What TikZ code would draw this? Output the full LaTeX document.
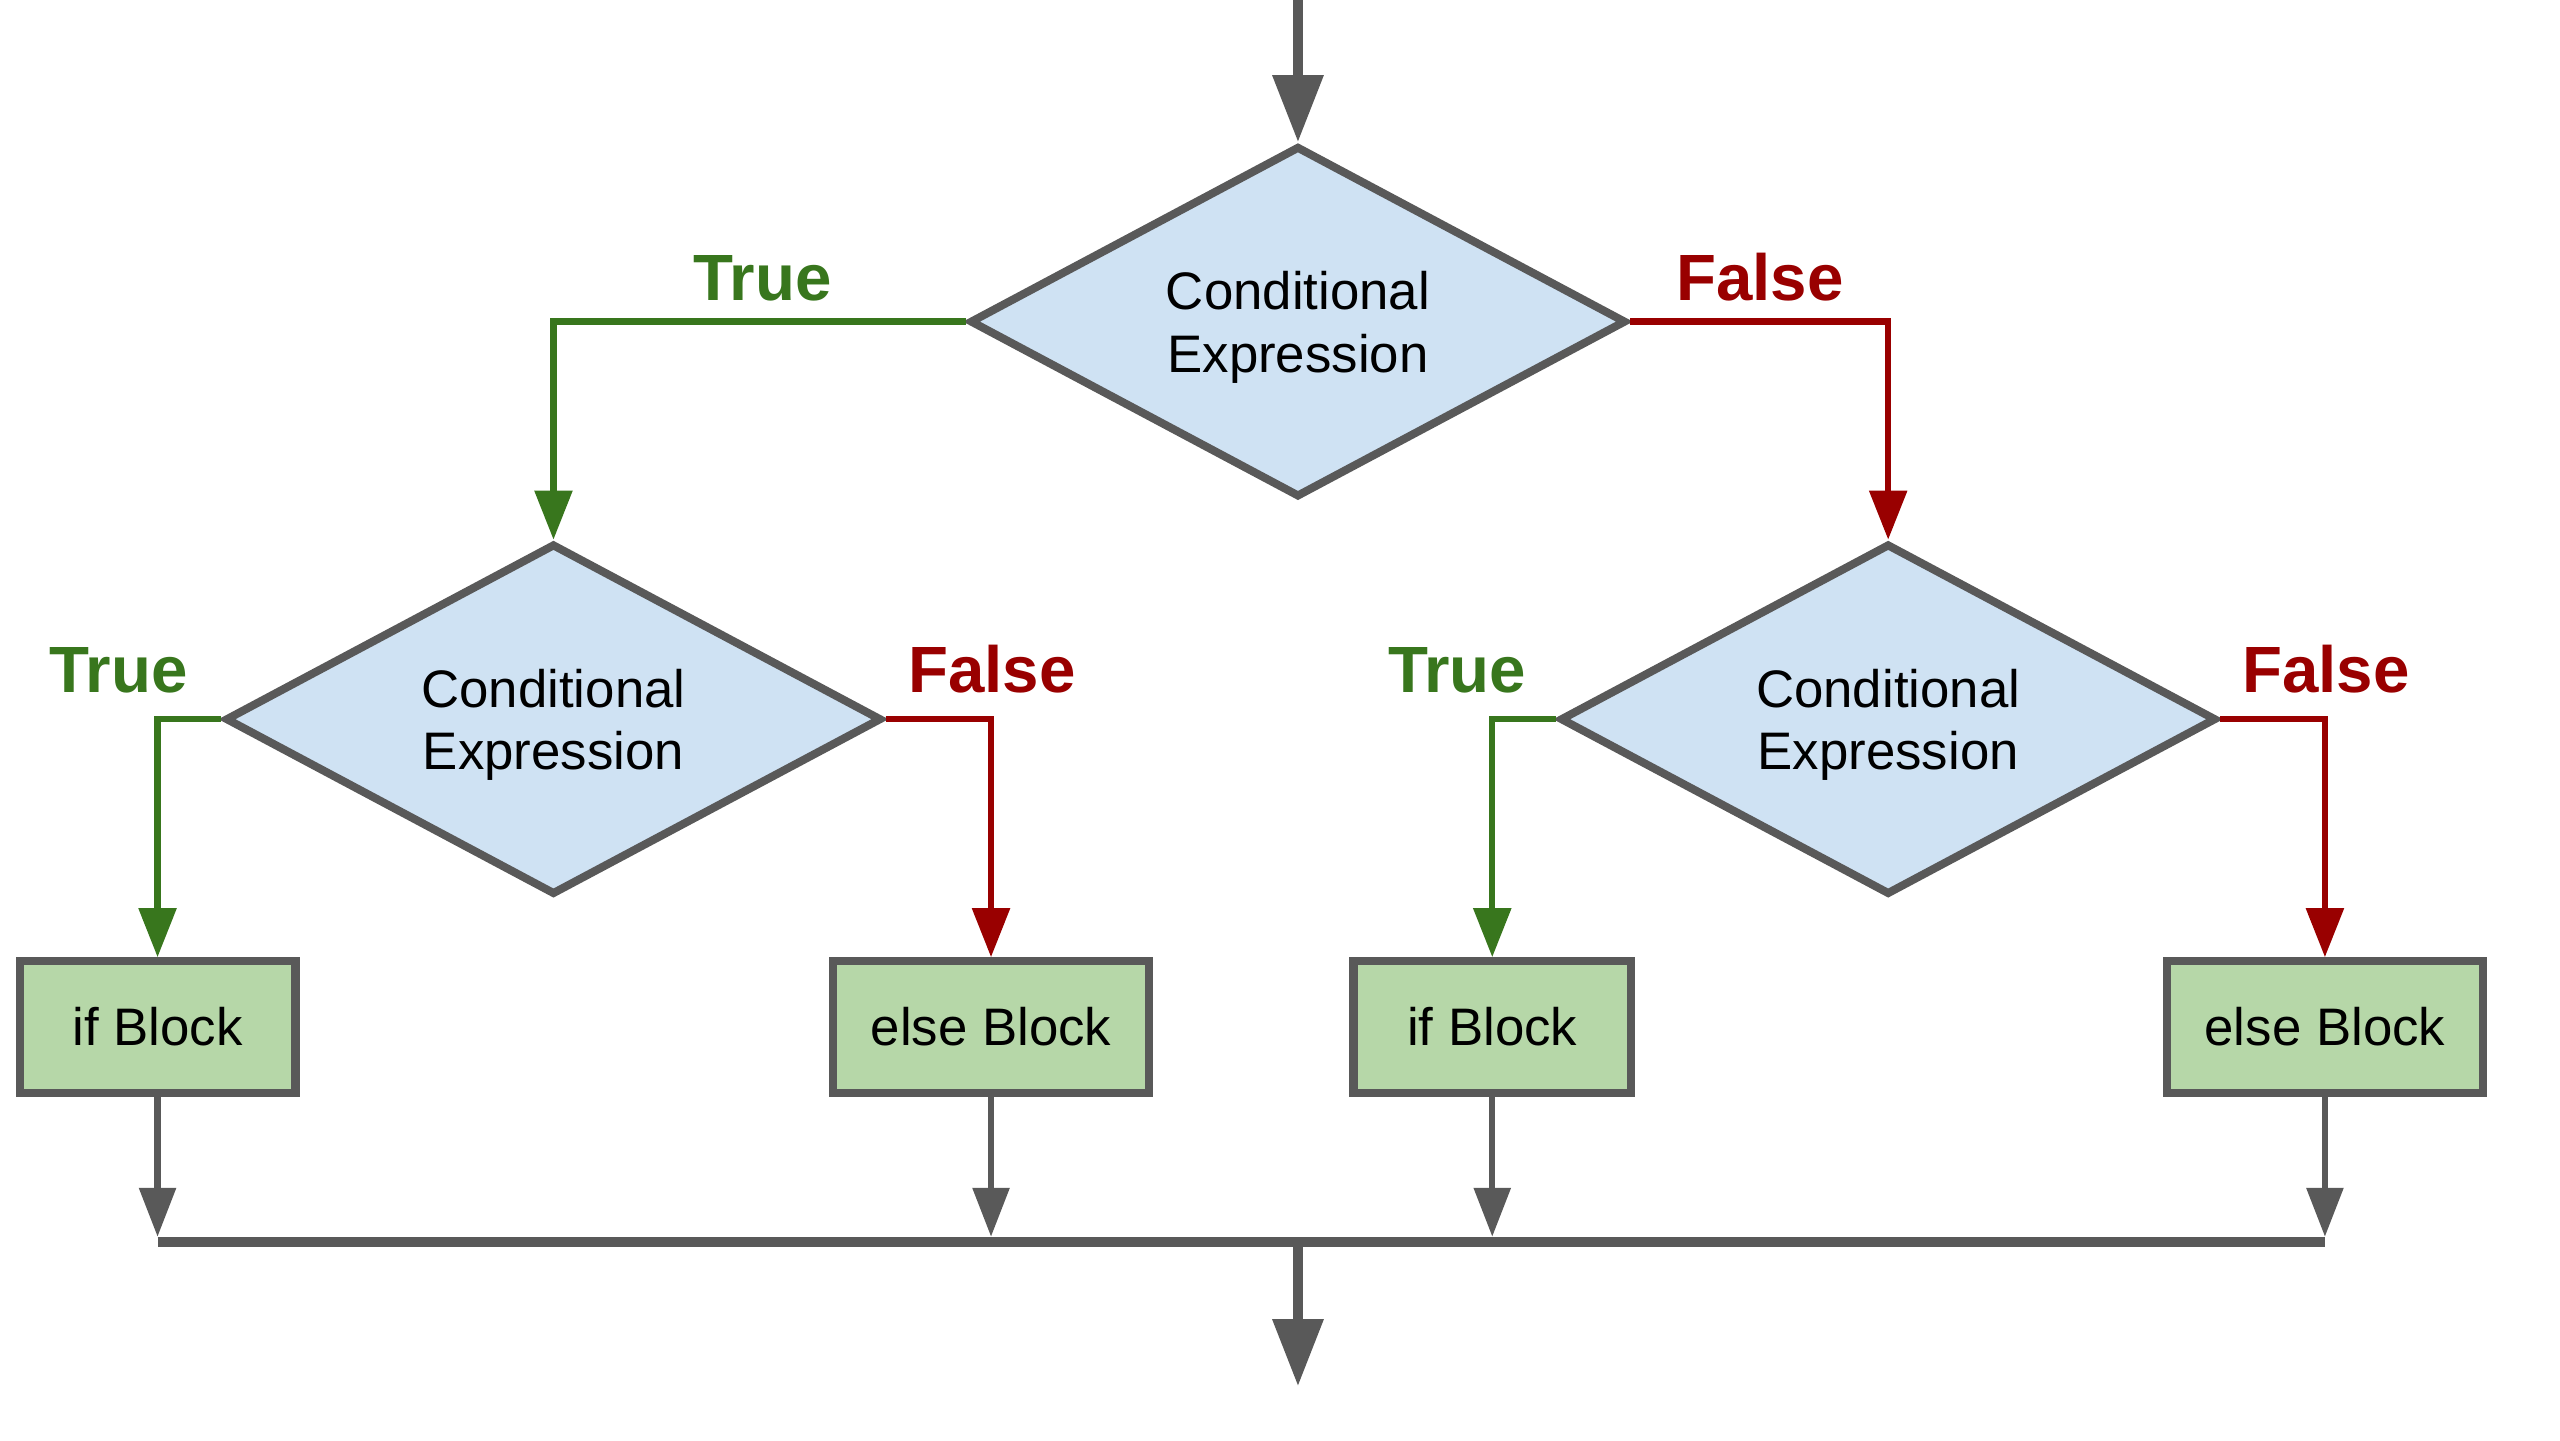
\documentclass[tikz,border=0pt]{standalone}
\usepackage{fontspec}
\setmainfont{Liberation Sans}
\usetikzlibrary{shapes.geometric, arrows.meta}
\definecolor{diamondblue}{HTML}{CFE2F3}
\definecolor{blockgreen}{HTML}{B6D7A8}
\definecolor{edgegray}{HTML}{595959}
\definecolor{truegreen}{HTML}{38761D}
\definecolor{falsered}{HTML}{990000}
\tikzstyle{decision} = [diamond, aspect=1.87, inner sep=0pt, minimum width=4.02cm, minimum height=2.15cm, text centered, align=center, text depth=0pt, draw=edgegray, line width=1.4pt, fill=diamondblue, font=\fontsize{9.2}{10.9}\selectfont]
\tikzstyle{codeblock} = [rectangle, minimum height=0.805cm, text centered, draw=edgegray, line width=1.4pt, fill=blockgreen, font=\fontsize{9.2}{11}\selectfont]
\tikzstyle{truelabel} = [anchor=base, text=truegreen, font=\fontsize{11.4}{13}\selectfont\bfseries]
\tikzstyle{falselabel} = [anchor=base, text=falsered, font=\fontsize{11.4}{13}\selectfont\bfseries]
\tikzstyle{truearrow} = [line width=1.1pt, truegreen, -{Triangle[length=0.30cm, width=0.225cm]}]
\tikzstyle{falsearrow} = [line width=1.1pt, falsered, -{Triangle[length=0.30cm, width=0.225cm]}]
\tikzstyle{mergearrow} = [line width=1.1pt, edgegray, shorten >=0.03cm, -{Triangle[length=0.30cm, width=0.22cm]}]
\tikzstyle{mainarrow} = [line width=1.7pt, edgegray, -{Triangle[length=0.41cm, width=0.30cm]}]
\tikzstyle{joinline} = [line width=1.7pt, edgegray]
\begin{document}
\begin{tikzpicture}[node distance=2.435cm]
\useasboundingbox (0,0) rectangle (15.68,8.82);
\coordinate (entry) at (7.95,8.82);
\coordinate (merge) at (7.95,1.215);
\coordinate (exit) at (7.95,0.33);

\node (cond) [decision] at (7.95,6.85) {Conditional\\Expression};
\node (condL) [decision, below of=cond, xshift=-4.56cm] {Conditional\\Expression};
\node (condR) [decision, below of=cond, xshift=3.615cm] {Conditional\\Expression};
\node (ifL) [codeblock, minimum width=1.69cm, below of=condL, xshift=-2.425cm, yshift=0.55cm] {if Block};
\node (elseL) [codeblock, minimum width=1.94cm, below of=condL, xshift=2.68cm, yshift=0.55cm] {else Block};
\node (ifR) [codeblock, minimum width=1.70cm, below of=condR, xshift=-2.425cm, yshift=0.55cm] {if Block};
\node (elseR) [codeblock, minimum width=1.94cm, below of=condR, xshift=2.675cm, yshift=0.55cm] {else Block};

\node (t0) [truelabel] at (4.67,6.98) {True};
\node (f0) [falselabel] at (10.78,6.98) {False};
\node (t1) [truelabel] at (0.725,4.58) {True};
\node (f1) [falselabel] at (6.075,4.58) {False};
\node (t2) [truelabel] at (8.925,4.58) {True};
\node (f2) [falselabel] at (14.245,4.58) {False};

\draw [mainarrow] (entry) -- (cond);
\draw [truearrow] (cond.west) -| (condL.north);
\draw [falsearrow] (cond.east) -| (condR.north);
\draw [truearrow] (condL.west) -| (ifL.north);
\draw [falsearrow] (condL.east) -| (elseL.north);
\draw [truearrow] (condR.west) -| (ifR.north);
\draw [falsearrow] (condR.east) -| (elseR.north);
\draw [mergearrow] (ifL) -- (ifL.south |- merge);
\draw [mergearrow] (elseL) -- (elseL.south |- merge);
\draw [mergearrow] (ifR) -- (ifR.south |- merge);
\draw [mergearrow] (elseR) -- (elseR.south |- merge);
\draw [joinline] (ifL.south |- merge) -- (elseR.south |- merge);
\draw [mainarrow] (merge) -- (exit);

\end{tikzpicture}
\end{document}
